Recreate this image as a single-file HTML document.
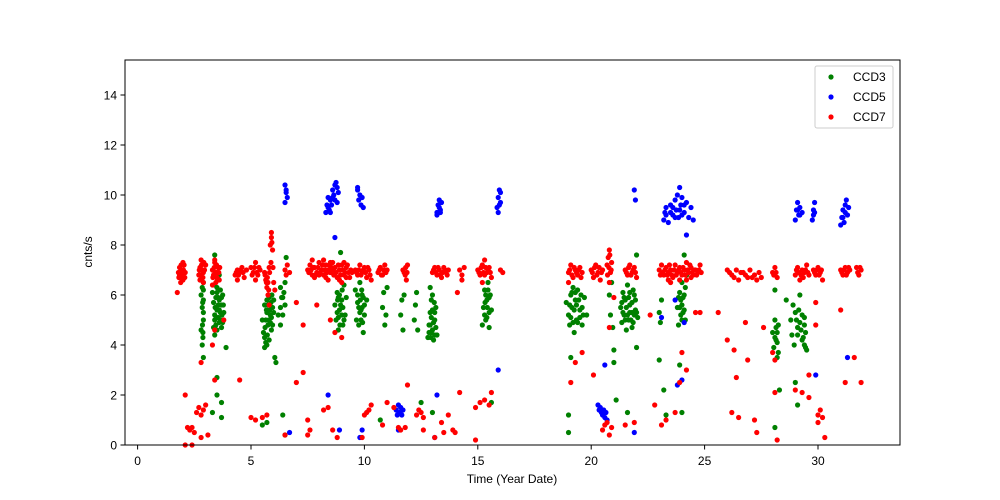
<!DOCTYPE html>
<html><head><meta charset="utf-8"><style>
html,body{margin:0;padding:0;background:#fff;}
svg{display:block;font-family:"Liberation Sans","DejaVu Sans",sans-serif;}
</style></head><body>
<svg id="chart" width="1000" height="500" viewBox="0 0 1000 500">
<rect x="0" y="0" width="1000" height="500" fill="#fff"/>
<g id="marks"></g>
<rect x="125" y="60" width="775" height="385" fill="none" stroke="#000" stroke-width="1"/>
<g id="xticks"></g>
<g id="yticks"></g>
<text x="512" y="483" font-size="12" text-anchor="middle">Time (Year Date)</text>
<text transform="translate(92,252) rotate(-90)" font-size="12" text-anchor="middle">cnts/s</text>
<g>
<rect x="815" y="66" width="78" height="62" rx="2" fill="#fff" fill-opacity="0.8" stroke="#ccc"/>
<g><circle cx="831" cy="77" r="2.6" fill="#008000"/><text x="853" y="81" font-size="12">CCD3</text></g>
<g><circle cx="831" cy="97" r="2.6" fill="#0000ff"/><text x="853" y="101" font-size="12">CCD5</text></g>
<g><circle cx="831" cy="117" r="2.6" fill="#ff0000"/><text x="853" y="121" font-size="12">CCD7</text></g>
</g>
</svg>
<script>
const xTicks = [0,5,10,15,20,25,30];
const yTicks = [0,2,4,6,8,10,12,14];
const ccd3 = [[2.8,6.0],[2.85,5.5],[2.9,5.0],[2.8,4.6],[2.9,6.5],[2.85,4.0],[2.9,3.5],[2.9,5.8],
[3.3,6.1],[3.35,5.7],[3.4,5.2],[3.45,4.8],[3.5,6.3],[3.55,5.9],[3.6,5.4],[3.65,5.0],[3.7,5.6],[3.75,6.0],[3.8,5.3],[3.4,7.6],[3.5,2.7],[3.5,2.0],[3.3,1.3],[3.7,1.7],[3.7,1.1],[3.9,3.9],[3.4,4.4],[3.6,6.8],
[5.5,5.0],[5.55,4.5],[5.6,5.6],[5.65,4.1],[5.7,5.3],[5.75,4.8],[5.8,5.9],[5.85,5.2],[5.9,4.6],[5.95,5.5],[6.0,5.8],[6.05,3.5],[6.1,3.3],[6.2,5.2],[6.3,6.3],[6.4,5.9],[6.5,6.5],[6.55,7.5],[6.4,1.2],[5.7,0.9],[5.5,0.8],[6.5,0.4],[6.3,4.8],
[8.7,5.6],[8.75,5.0],[8.8,6.1],[8.85,4.6],[8.9,5.4],[8.95,7.7],[9.0,5.8],[9.05,4.8],[9.1,6.4],[9.15,5.2],[9.2,5.9],
[9.6,6.2],[9.65,5.0],[9.7,5.7],[9.75,4.8],[9.8,6.5],[9.85,5.4],[9.9,6.0],[9.95,4.5],[10.0,5.2],[10.1,5.8],
[10.8,5.5],[10.85,6.1],[10.9,4.8],[10.95,5.2],[11.0,6.3],[10.7,1.0],
[11.6,5.2],[11.65,5.8],[11.7,4.6],[11.75,6.0],
[12.2,5.0],[12.25,5.6],[12.3,6.1],[12.35,4.6],[12.5,1.7],
[12.8,4.3],[12.85,4.8],[12.9,5.3],[12.95,4.5],[13.0,6.0],[13.05,4.2],[13.1,5.0],[13.15,5.5],[13.2,4.4],[12.9,6.3],[13.0,1.3],
[15.2,4.8],[15.25,5.5],[15.3,6.2],[15.35,5.0],[15.4,5.8],[15.45,6.5],[15.5,4.7],[15.55,6.0],[15.6,5.4],[15.6,1.7],
[19.0,5.2],[19.05,4.8],[19.1,6.0],[19.15,5.5],[19.2,6.3],[19.25,4.5],[19.3,5.8],[19.35,5.0],[19.4,6.2],[19.5,5.4],[19.6,4.8],[19.7,5.9],[19.8,5.2],[18.9,5.7],[19.0,1.2],[19.0,0.5],[19.1,3.5],
[20.8,6.0],[20.85,5.2],[20.9,6.5],[20.95,4.7],[21.0,3.3],[21.1,1.8],[21.0,3.8],
[21.3,5.5],[21.35,4.9],[21.4,6.1],[21.45,5.2],[21.5,5.8],[21.55,4.6],[21.6,6.4],[21.65,5.0],[21.7,5.6],[21.75,6.8],[21.8,5.3],[21.85,4.9],[21.9,6.0],[21.95,5.4],[22.0,7.6],[22.05,5.1],[21.6,1.3],[22.0,3.9],
[23.0,5.3],[23.05,4.9],[23.1,5.8],[23.0,3.4],[23.2,2.2],[23.3,1.2],
[23.8,5.5],[23.85,4.8],[23.9,6.1],[23.95,5.2],[24.0,6.5],[24.05,5.9],[24.1,7.6],[24.15,5.0],[24.2,6.8],[24.0,1.3],[23.9,3.2],
[28.0,4.5],[28.05,3.9],[28.1,5.0],[28.15,4.2],[28.2,3.5],[28.25,4.8],[28.1,6.2],[28.1,0.7],[28.3,2.2],
[28.8,5.0],[28.85,4.4],[28.9,5.6],[28.95,4.0],[29.0,5.3],[29.1,4.7],[29.2,6.0],[29.3,4.2],[29.4,5.1],[29.5,3.8],[29.45,4.5],[29.1,1.6],[29.0,2.5],[28.6,5.8],
[2.88,4.3],[2.86,4.8],[2.9,5.3],[2.87,5.7],[2.9,6.2],[2.85,6.3],[2.88,4.5],
[3.35,4.7],[3.4,5.0],[3.42,5.5],[3.45,5.9],[3.5,6.1],[3.5,4.6],[3.55,5.1],[3.55,5.6],[3.6,5.8],[3.6,4.9],[3.65,6.2],[3.65,5.3],[3.7,4.7],[3.7,5.9],[3.72,5.2],[3.75,4.9],[3.78,5.6],[3.4,6.4],[3.5,5.4],
[5.6,4.3],[5.62,4.7],[5.65,5.0],[5.68,5.4],[5.7,5.8],[5.72,4.4],[5.75,5.6],[5.78,5.0],[5.8,4.2],[5.82,5.4],[5.85,4.9],[5.88,5.7],[5.9,5.1],[5.92,6.0],[5.6,3.9],[5.7,4.0],[5.95,4.8],[6.0,5.3],
[6.3,5.5],[6.35,5.9],[6.4,5.2],[6.45,6.1],[6.5,5.6],
[8.8,5.3],[8.82,5.8],[8.85,5.1],[8.9,6.0],[8.92,4.8],[8.95,5.6],[9.0,5.2],[9.02,6.2],[9.05,5.5],[9.1,5.0],[8.85,5.9],
[9.8,5.3],[9.82,5.8],[9.85,5.0],[9.88,6.2],[9.9,5.5],[9.92,4.9],[9.95,5.9],[10.0,5.6],[9.75,5.5],[9.7,6.0],
[12.85,4.5],[12.9,4.8],[12.92,4.3],[12.95,5.1],[13.0,4.6],[13.0,5.4],[13.05,4.9],[13.08,5.7],[13.1,4.4],[13.1,5.3],[12.95,5.8],[13.15,4.7],
[15.3,5.2],[15.32,5.7],[15.35,6.0],[15.4,5.1],[15.42,5.5],[15.45,6.2],[15.5,5.3],[15.5,5.9],
[19.05,5.6],[19.1,5.1],[19.15,6.1],[19.2,4.9],[19.25,5.4],[19.3,6.1],[19.35,5.6],[19.4,4.9],[19.45,5.8],[19.5,5.1],[19.55,6.0],[19.6,5.5],[19.65,5.2],
[21.35,5.7],[21.4,5.3],[21.45,5.9],[21.5,5.0],[21.55,5.5],[21.6,5.2],[21.65,5.9],[21.7,5.3],[21.75,5.0],[21.8,5.7],[21.85,6.2],[21.9,5.2],[21.95,5.8],[22.0,5.3],[21.7,6.1],[21.8,4.7],
[23.9,5.5],[23.95,5.8],[24.0,5.0],[24.0,5.6],[24.05,5.3],[24.1,6.0],[24.1,5.4],[24.15,6.3],[23.85,5.9],
[28.1,4.3],[28.15,4.7],[28.2,4.1],[28.2,4.5],[28.25,3.7],
[29.05,5.0],[29.1,4.4],[29.15,5.4],[29.2,4.9],[29.25,4.6],[29.3,5.2],[29.35,4.3],[29.4,4.0],[29.4,4.8],[29.45,3.9]];
const ccd5 = [[6.5,10.4],[6.55,10.2],[6.6,9.9],[6.5,9.7],[6.55,10.1],[6.7,0.5],
[8.3,9.3],[8.35,9.6],[8.4,9.9],[8.45,9.4],[8.5,9.8],[8.6,10.2],[8.65,10.0],[8.7,10.4],[8.75,10.5],[8.8,9.7],[8.85,10.1],[8.4,2.0],[8.9,0.6],[8.7,8.3],
[9.7,10.2],[9.75,9.8],[9.8,10.0],[9.85,9.6],[9.9,9.9],[9.95,9.5],[9.7,10.3],[9.9,0.6],[9.8,0.3],
[11.4,1.4],[11.45,1.2],[11.5,1.6],[11.55,1.3],[11.6,1.5],[11.65,1.2],[11.7,1.4],[11.5,0.6],
[13.2,9.3],[13.25,9.6],[13.3,9.8],[13.35,9.4],[13.4,9.7],[13.2,9.2],[13.2,2.0],[13.1,0.3],
[15.85,9.5],[15.9,9.9],[15.95,10.2],[16.0,9.7],[15.9,9.3],[16.0,10.1],[15.9,3.0],
[20.3,1.6],[20.35,1.4],[20.4,1.5],[20.45,1.3],[20.5,1.2],[20.55,1.4],[20.6,1.1],[20.65,1.3],[20.7,1.0],[20.6,3.2],
[21.9,10.2],[21.95,9.8],[21.9,0.5],
[23.2,9.0],[23.25,9.3],[23.3,9.5],[23.4,8.9],[23.5,9.6],[23.6,9.2],[23.7,9.8],[23.75,9.4],[23.8,10.0],[23.85,9.1],[23.9,10.3],[23.95,9.6],[24.0,9.9],[24.1,9.3],[24.2,9.7],[24.3,9.1],[24.4,9.5],[24.5,9.0],[24.2,8.4],[23.7,5.8],[23.8,2.4],[24.0,2.6],[24.1,4.9],[23.1,5.1],
[29.0,9.0],[29.05,9.4],[29.1,9.7],[29.15,9.2],[29.2,9.5],[29.3,9.3],
[29.75,9.0],[29.8,9.4],[29.85,9.7],[29.8,9.2],[29.9,2.8],
[31.0,8.8],[31.05,9.1],[31.1,9.4],[31.15,8.9],[31.2,9.6],[31.25,9.8],[31.3,9.2],[31.35,9.5],[31.3,3.5],
[8.4,9.5],[8.5,9.3],[8.55,9.6],[8.6,9.9],[8.7,9.8],[8.8,10.3],[13.3,9.5],[13.35,9.3],[15.95,9.6],[23.3,9.2],[23.5,9.3],[23.6,9.5],[23.7,9.1],[23.9,9.4],[24.0,9.2],[24.1,9.6],[29.1,9.4],[29.2,9.2],[29.85,9.3],[31.1,9.1],[31.2,9.3]];
const ccd7 = [[1.8,6.9],[1.85,7.1],[1.9,6.7],[1.95,7.0],[2.0,6.8],[2.05,7.2],[2.1,6.9],[1.9,6.5],[1.75,6.1],[2.0,7.3],
[2.7,6.8],[2.75,7.1],[2.8,6.6],[2.85,7.0],[2.9,6.9],[3.0,7.2],[2.8,7.4],[2.9,6.5],
[3.3,7.0],[3.35,6.8],[3.4,7.3],[3.5,6.9],[3.55,7.1],[3.6,6.6],[3.4,7.4],[3.5,6.7],[3.3,6.4],
[4.3,6.8],[4.4,7.0],[4.5,6.9],[4.6,7.1],[4.7,6.7],[4.8,7.0],[4.4,6.6],
[5.0,7.1],[5.1,6.9],[5.2,7.3],[5.3,6.8],[5.4,7.0],[5.2,6.6],
[5.6,6.9],[5.65,6.6],[5.7,6.3],[5.75,6.0],[5.8,7.1],[5.85,8.0],[5.9,8.3],[5.9,8.5],[5.95,7.8],[6.0,6.5],[6.05,6.2],[5.8,5.6],
[6.5,7.0],[6.55,6.8],[6.6,7.2],[6.7,6.9],
[7.5,7.0],[7.6,7.2],[7.7,6.8],[7.8,7.1],[7.9,6.9],[8.0,7.3],[8.1,7.0],[8.2,6.8],[8.3,7.2],[8.4,7.0],[8.5,6.9],[8.6,7.3],[8.7,7.1],[8.8,6.7],[8.9,7.0],[9.0,7.2],[9.1,6.8],[9.2,7.1],[9.3,6.9],[9.4,7.0],[7.7,7.4],[8.4,6.6],[9.0,6.5],[8.2,7.4],
[9.6,7.0],[9.7,6.8],[9.8,7.2],[9.9,6.9],[10.0,7.1],[10.1,6.7],[10.2,7.0],[10.3,6.6],
[10.6,6.9],[10.7,7.1],[10.8,6.8],[10.9,7.2],[11.0,7.0],
[11.7,7.0],[11.8,6.8],[11.9,7.2],[11.85,6.6],
[13.0,6.9],[13.1,7.1],[13.2,6.8],[13.3,7.0],[13.4,6.7],[13.5,7.1],[13.6,6.9],[13.7,7.0],
[14.2,7.0],[14.3,6.8],[14.4,7.1],[14.3,6.6],
[15.0,7.0],[15.1,6.8],[15.2,7.2],[15.3,7.4],[15.4,6.9],[15.5,7.1],[15.6,6.7],[15.2,6.5],
[16.0,7.0],[16.1,6.9],
[19.0,6.9],[19.1,7.2],[19.2,6.7],[19.3,7.0],[19.4,6.8],[19.5,7.1],[19.6,6.9],[19.0,6.5],
[20.0,7.0],[20.1,6.7],[20.2,7.2],[20.3,6.9],[20.4,6.6],[20.5,7.0],
[20.7,7.2],[20.75,7.5],[20.8,7.8],[20.85,6.9],[20.9,7.3],[20.8,6.5],
[21.5,7.0],[21.6,6.8],[21.7,7.2],[21.8,6.9],[21.9,7.1],[22.0,6.7],
[23.0,7.0],[23.1,7.2],[23.2,6.8],[23.3,7.1],[23.4,6.9],[23.5,7.0],[23.6,6.7],[23.7,7.2],[23.8,6.9],[23.9,7.1],[24.0,6.8],[24.1,7.0],[24.2,7.3],[24.3,6.9],[24.4,7.1],[24.5,6.8],[24.6,7.0],[24.7,6.9],[24.8,7.2],[23.5,6.5],[24.2,6.6],
[26.0,7.0],[26.2,6.8],[26.4,7.0],[26.5,6.6],[26.7,6.9],[26.9,6.7],[27.0,7.0],[27.2,6.8],[27.3,6.6],[27.4,6.9],
[28.0,6.9],[28.1,7.1],[28.2,6.7],
[29.0,6.8],[29.1,7.1],[29.2,6.6],[29.3,7.0],[29.4,6.9],[29.5,7.2],[29.6,6.8],
[29.8,7.0],[29.9,6.8],[30.0,7.1],[30.1,6.9],[30.2,6.6],
[31.0,7.0],[31.1,6.8],[31.2,7.1],[31.3,6.9],[31.4,7.0],
[31.7,7.1],[31.8,6.8],[31.9,7.0],
[2.1,2.0],[2.2,0.7],[2.3,0.6],[2.4,0.7],[2.5,0.5],[2.1,0.0],[2.4,0.0],[2.6,1.3],[2.7,1.5],[2.8,1.2],[2.9,1.4],[3.0,1.6],[3.1,0.4],[2.8,0.3],[2.8,3.3],[3.3,4.0],[3.4,2.6],[3.4,4.6],[4.5,2.6],[3.8,5.0],[5.0,1.1],[5.2,1.0],[5.5,1.1],[5.7,1.2],[6.5,0.4],[7.0,2.5],[7.3,2.9],[7.5,1.0],[7.6,0.6],[7.5,0.4],[8.2,1.4],[8.4,1.5],[8.6,0.6],[8.8,0.3],[8.7,4.5],[9.0,4.3],[8.5,5.0],[7.3,4.8],[9.9,0.3],[10.0,1.2],[10.1,1.3],[10.2,1.4],[10.3,1.6],[10.8,0.8],[11.0,1.7],[11.3,1.5],[11.5,0.7],[11.6,0.6],[11.8,0.7],[11.9,2.4],[12.3,1.2],[12.4,1.4],[12.5,1.3],[12.6,1.1],[12.6,0.6],[13.1,0.3],[13.4,0.9],[13.5,0.5],[13.7,1.2],[13.9,0.6],[14.0,0.5],[14.2,2.1],[14.1,6.1],[14.9,0.2],[14.9,1.5],[15.1,1.7],[15.3,1.8],[15.5,1.6],[15.6,2.1],[19.1,2.5],[19.3,3.3],[19.6,3.7],[20.1,2.8],[20.5,0.6],[20.6,0.8],[20.7,0.9],[20.9,0.7],[20.8,0.4],[20.8,4.7],[21.0,5.9],[21.5,0.8],[21.9,0.9],[22.6,5.2],[22.8,1.6],[23.1,0.8],[23.3,1.0],[23.7,1.3],[23.9,2.5],[24.0,3.7],[24.2,3.0],[24.6,5.3],[24.8,5.3],[26.0,4.2],[26.2,1.3],[26.3,3.8],[26.4,2.7],[26.5,1.1],[26.8,4.9],[26.9,3.4],[27.2,1.0],[27.3,0.5],[27.6,4.7],[28.0,3.7],[28.1,3.4],[28.2,0.2],[28.1,2.1],[29.0,2.2],[29.3,2.1],[29.6,2.8],[29.6,1.9],[29.9,4.8],[29.9,5.7],[30.0,1.2],[30.1,1.4],[30.2,1.1],[30.0,0.9],[30.3,0.3],[31.0,5.4],[31.2,2.5],[31.6,3.5],[31.9,2.5],[25.6,5.3],[7.0,5.7],[7.9,5.6],
[1.82,6.7],[1.88,6.9],[1.92,7.2],[1.98,6.6],[2.02,7.0],[2.08,6.7],[1.85,6.8],[1.95,6.9],[2.0,6.6],
[2.72,7.0],[2.78,6.8],[2.82,7.2],[2.88,6.7],[2.95,7.0],[2.75,6.6],[2.92,7.3],
[3.32,6.7],[3.38,7.1],[3.42,6.9],[3.48,7.2],[3.52,6.6],[3.58,6.9],[3.62,7.1],[3.45,6.5],
[4.35,6.9],[4.45,6.8],[4.55,7.0],[4.65,6.9],[5.05,6.8],[5.15,7.1],[5.25,6.9],[5.35,7.1],
[5.62,6.8],[5.68,6.5],[5.72,6.7],[5.78,6.2],[5.82,6.9],[5.88,7.3],[5.92,8.1],[5.97,7.1],[5.75,6.5],
[7.55,6.9],[7.65,7.0],[7.75,7.1],[7.85,6.8],[7.95,7.1],[8.05,6.9],[8.15,7.2],[8.25,7.0],[8.35,6.9],[8.45,7.2],[8.55,7.1],[8.65,6.8],[8.75,6.9],[8.85,7.2],[8.95,6.8],[9.05,7.0],[9.15,6.9],[9.25,7.2],[9.35,6.7],[9.45,6.9],[7.8,6.7],[8.0,6.8],[8.3,6.7],[8.6,7.0],[8.9,6.6],[9.2,6.7],[9.1,7.3],[8.5,7.3],
[9.65,6.9],[9.75,7.0],[9.85,6.8],[9.95,7.0],[10.05,6.9],[10.15,7.1],[10.25,6.8],[10.65,7.0],[10.75,6.8],[10.85,7.0],[10.95,6.9],
[11.75,6.9],[11.82,7.1],[11.88,6.9],
[13.05,7.0],[13.15,6.9],[13.25,7.1],[13.35,6.8],[13.45,6.9],[13.55,7.0],[13.65,6.8],
[15.05,6.9],[15.15,7.1],[15.25,6.9],[15.35,7.1],[15.45,7.0],[15.55,6.9],[15.3,6.8],
[19.05,7.0],[19.15,6.8],[19.25,7.1],[19.35,6.9],[19.45,7.0],[19.55,6.7],
[20.05,6.9],[20.15,7.1],[20.25,6.8],[20.35,7.1],[20.45,6.9],[20.72,6.8],[20.78,7.1],[20.82,7.6],[20.88,7.0],
[21.55,6.9],[21.65,7.1],[21.75,6.8],[21.85,7.0],[21.95,6.9],
[23.05,6.8],[23.15,6.9],[23.25,7.0],[23.35,6.8],[23.45,7.2],[23.55,6.8],[23.65,7.0],[23.75,6.8],[23.85,7.0],[23.95,6.9],[24.05,7.1],[24.15,6.8],[24.25,7.0],[24.35,7.2],[24.45,6.9],[24.55,7.0],[24.65,6.8],[24.75,7.0],[24.85,6.9],[23.4,6.6],[23.9,6.6],[24.4,6.7],
[26.1,6.9],[26.3,6.7],[26.6,6.9],[26.8,6.8],[27.1,6.7],[27.5,6.7],[28.05,6.8],[28.15,6.9],
[29.05,7.0],[29.15,6.9],[29.25,6.8],[29.35,6.7],[29.45,7.0],[29.55,6.9],[29.85,6.9],[29.95,7.0],[30.05,6.8],[30.15,7.0],
[31.05,6.9],[31.15,7.0],[31.25,6.8],[31.35,7.1],[31.75,6.9],[31.85,7.1]];

const NS = "http://www.w3.org/2000/svg";
const X0 = 137.6, XS = 22.68, Y0 = 445, YS = 25;
function sx(v){ return X0 + v * XS; }
function sy(v){ return Y0 - v * YS; }

const xg = document.getElementById('xticks');
xTicks.forEach(t => {
  const l = document.createElementNS(NS,'line');
  l.setAttribute('x1', sx(t)); l.setAttribute('x2', sx(t));
  l.setAttribute('y1', 445); l.setAttribute('y2', 449.5);
  l.setAttribute('stroke', '#000');
  
  
  xg.appendChild(l);
  const tx = document.createElementNS(NS,'text');
  tx.setAttribute('x', sx(t)); tx.setAttribute('y', 465);
  tx.setAttribute('font-size', '12'); tx.setAttribute('text-anchor', 'middle');
  tx.textContent = t;
  
  
  xg.appendChild(tx);
});
const yg = document.getElementById('yticks');
yTicks.forEach(t => {
  const l = document.createElementNS(NS,'line');
  l.setAttribute('x1', 120.5); l.setAttribute('x2', 125);
  l.setAttribute('y1', sy(t)); l.setAttribute('y2', sy(t));
  l.setAttribute('stroke', '#000');
  
  
  yg.appendChild(l);
  const tx = document.createElementNS(NS,'text');
  tx.setAttribute('x', 117); tx.setAttribute('y', sy(t) + 4.5);
  tx.setAttribute('font-size', '12'); tx.setAttribute('text-anchor', 'end');
  tx.textContent = t;
  
  
  yg.appendChild(tx);
});

const mg = document.getElementById('marks');
function drawSeries(pts, color, name){
  const g = document.createElementNS(NS,'g');
  
  
  pts.forEach(p => {
    const c = document.createElementNS(NS,'circle');
    c.setAttribute('cx', sx(p[0])); c.setAttribute('cy', sy(p[1]));
    c.setAttribute('r', 2.6); c.setAttribute('fill', color);
    
    
    g.appendChild(c);
  });
  mg.appendChild(g);
}
drawSeries(ccd3, '#008000', 'series-ccd3');
drawSeries(ccd5, '#0000ff', 'series-ccd5');
drawSeries(ccd7, '#ff0000', 'series-ccd7');
</script>
</body></html>
